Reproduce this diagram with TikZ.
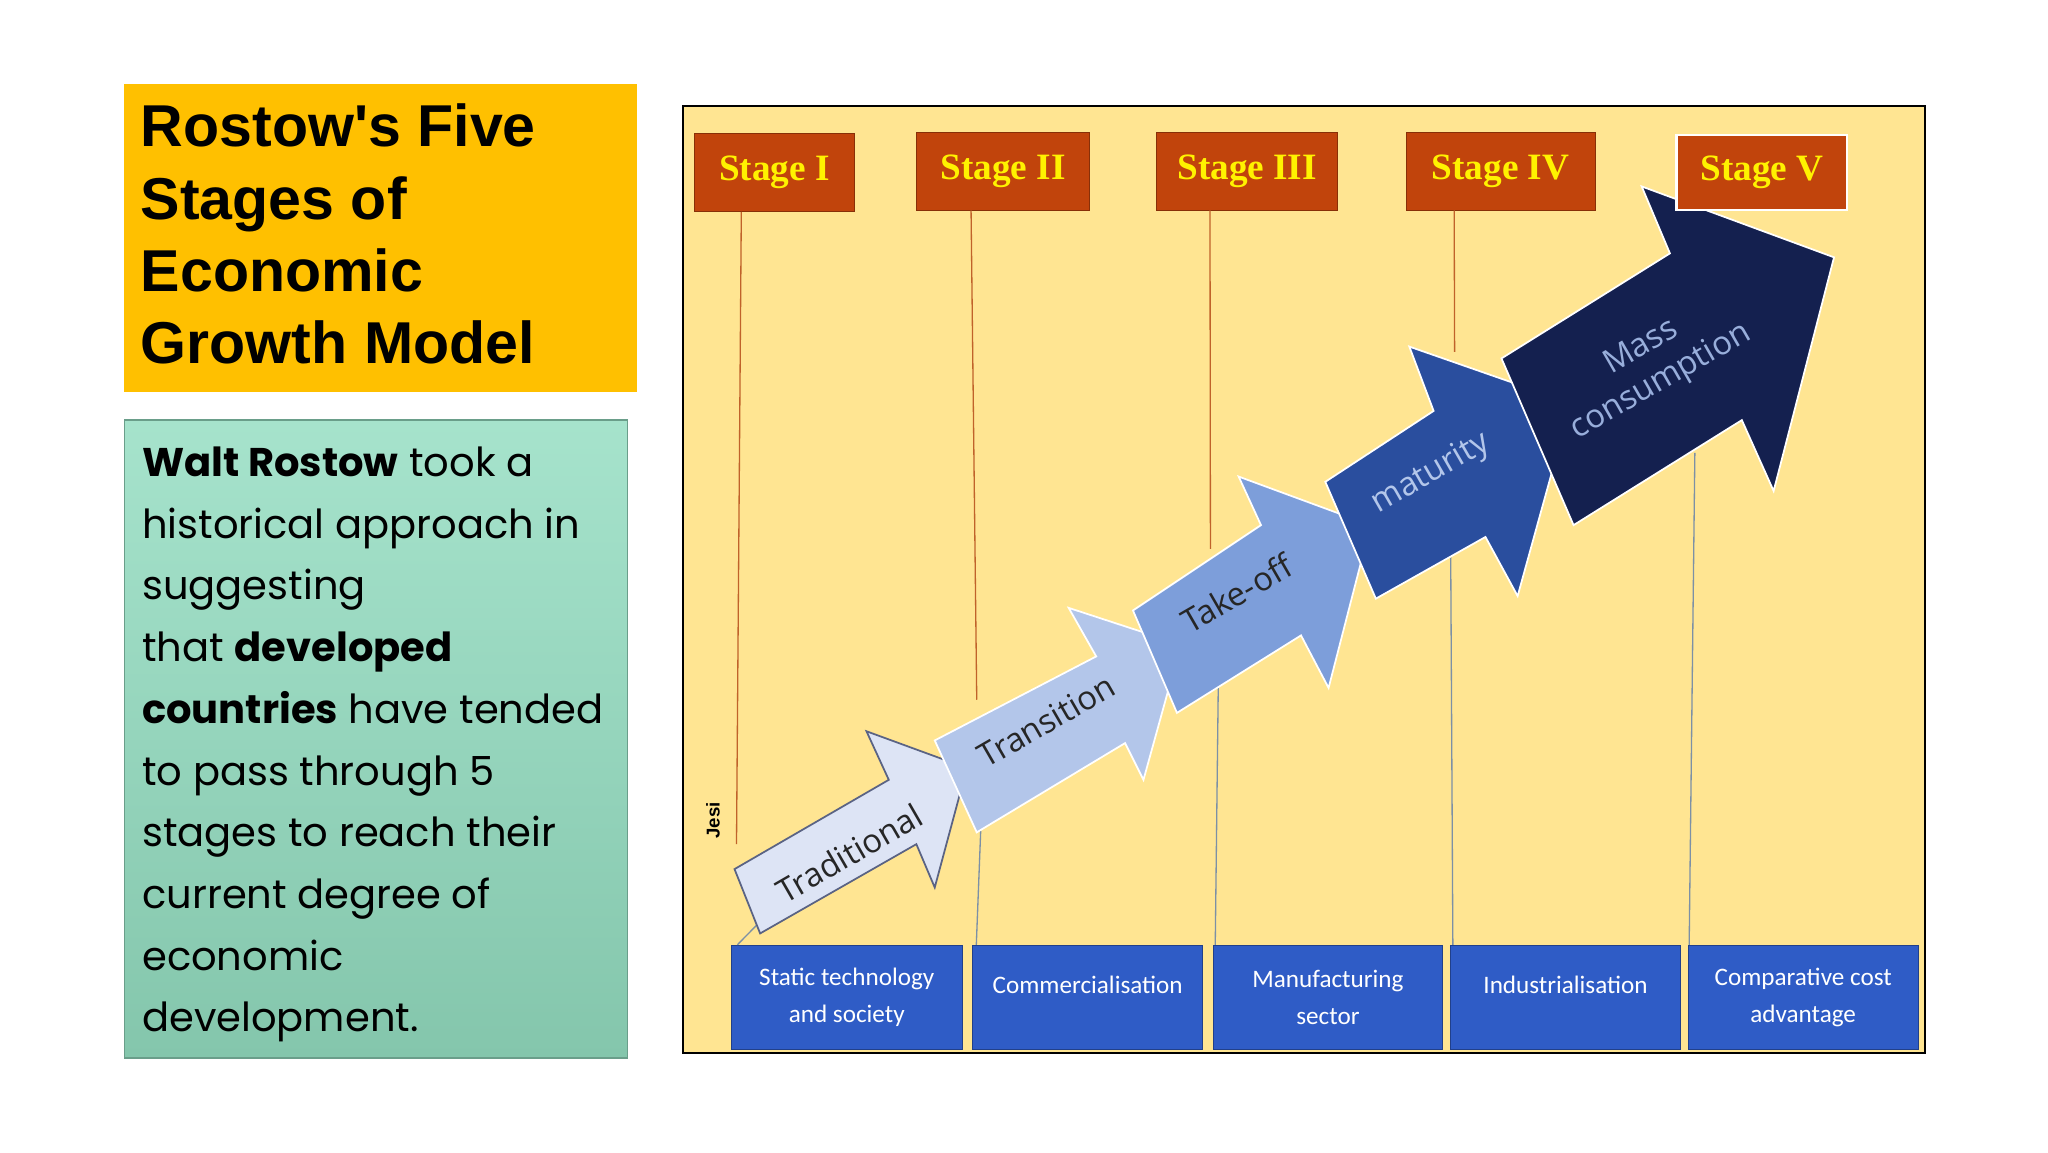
\documentclass[tikz,border=0pt]{standalone}
\usepackage{fontspec}
\setmainfont{Liberation Sans}
\newfontfamily\gothic{Poppins}
\newfontfamily\stagef{Liberation Serif}
\newfontfamily\arrf{Open Sans}
\newfontfamily\boxf{Carlito}
\definecolor{ttl}{HTML}{FFC000}
\definecolor{mintA}{HTML}{A6E3CC}
\definecolor{mintB}{HTML}{84C6AC}
\definecolor{panel}{HTML}{FFE592}
\definecolor{stg}{HTML}{C1440C}
\definecolor{stgtxt}{HTML}{FFF200}
\definecolor{bbox}{HTML}{2F5CC6}
\definecolor{tline}{HTML}{C0622A}
\definecolor{bline}{HTML}{7C90A6}
\definecolor{aA}{HTML}{DDE4F5}
\definecolor{aB}{HTML}{B3C6EA}
\definecolor{aC}{HTML}{7D9EDA}
\definecolor{aD}{HTML}{2A4E9E}
\definecolor{aE}{HTML}{14204F}
\begin{document}
\begin{tikzpicture}[x=0.6pt,y=-0.6pt,
  stage/.style={draw=stg!70!black,fill=stg,text=stgtxt,font=\stagef\bfseries\fontsize{17}{20}\selectfont,inner sep=0pt},
  bot/.style={draw=bbox!70!black,fill=bbox,text=white,font=\boxf\fontsize{11.5}{17}\selectfont,align=center,inner sep=0pt},
  arr/.style={draw=white,line width=0.8pt,line join=miter},
  atxt/.style={font=\arrf\fontsize{15}{18}\selectfont,rotate=30,align=center},
  tl/.style={draw=tline,line width=0.6pt},
  bl/.style={draw=bline,line width=0.6pt},
  lt/.style={anchor=base west,inner sep=0pt,font=\gothic\fontsize{18.3}{24}\selectfont}]
\useasboundingbox (0,0) rectangle (1560,877.5);
\fill[white] (0,0) rectangle (1560,877.5);
% title
\node[fill=ttl,minimum width=391*0.6pt,minimum height=234*0.6pt,anchor=north west,inner sep=0pt] (title) at (94,64) {};
\node[anchor=north west,align=left,inner sep=0pt,font=\bfseries\fontsize{27}{33}\selectfont] (ttext) at (107,79) {Rostow\textquotesingle s Five\\Stages of\\Economic\\Growth Model};
% text box
\shade[top color=mintA,bottom color=mintB] (95,320) rectangle (478,806);
\draw[mintB!80!black,line width=0.6pt] (95,320) rectangle (478,806);
\node[lt] (l1) at (108,363) {\textbf{Walt Rostow} took a};
\node[lt] (l2) at (108,410) {historical approach in};
\node[lt] (l3) at (108,457) {suggesting};
\node[lt] (l4) at (108,504) {that \textbf{developed}};
\node[lt] (l5) at (108,551) {\textbf{countries} have tended};
\node[lt] (l6) at (108,598) {to pass through 5};
\node[lt] (l7) at (108,645) {stages to reach their};
\node[lt] (l8) at (108,692) {current degree of};
\node[lt] (l9) at (108,739) {economic};
\node[lt] (l10) at (108,786) {development.};
% panel
\draw[fill=panel,draw=black,line width=0.8pt] (520,81) rectangle (1466,802);
% stages
\node[stage,minimum width=122*0.6pt,minimum height=59*0.6pt] (s1) at (590,131.5) {Stage I};
\node[stage,minimum width=132*0.6pt,minimum height=59*0.6pt] (s2) at (764,130.5) {Stage II};
\node[stage,minimum width=138*0.6pt,minimum height=59*0.6pt] (s3) at (950,130.5) {Stage III};
\node[stage,minimum width=144*0.6pt,minimum height=59*0.6pt] (s4) at (1143,130.5) {Stage IV};
% bottom boxes
\node[bot,minimum width=176*0.6pt,minimum height=79*0.6pt] (b1) at (645,759.5) {Static technology\\and society};
\node[bot,minimum width=175*0.6pt,minimum height=79*0.6pt] (b2) at (828.5,759.5) {Commercialisation\\[-0.5em]\mbox{}};
\node[bot,minimum width=175*0.6pt,minimum height=79*0.6pt] (b3) at (1011.5,759.5) {Manufacturing\\sector};
\node[bot,minimum width=175*0.6pt,minimum height=79*0.6pt] (b4) at (1192.5,759.5) {Industrialisation\\[-0.5em]\mbox{}};
\node[bot,minimum width=175*0.6pt,minimum height=79*0.6pt] (b5) at (1373.5,759.5) {Comparative cost\\advantage};
% connector ends
\coordinate (e1) at (561,643);
\coordinate (e2) at (744,533);
\coordinate (e3) at (922,418);
\coordinate (e4) at (1108,268);
\coordinate (f1) at (578,703);
\coordinate (f2) at (747,633);
\coordinate (f3) at (928,520);
\coordinate (f4) at (1105,420);
\coordinate (f5) at (1291,345);
\draw[tl] (s1.south west)++(36,0) -- (e1);
\draw[tl] (s2.south west)++(42,0) -- (e2);
\draw[tl] (s3.south west)++(41,0) -- (e3);
\draw[tl] (s4.south west)++(37,0) -- (e4);
\draw[bl] (b1.north west)++(5,0) -- (f1);
\draw[bl] (b2.north west)++(3,0) -- (f2);
\draw[bl] (b3.north west)++(2,0) -- (f3);
\draw[bl] (b4.north west)++(2,0) -- (f4);
\draw[bl] (b5.north west)++(1,0) -- (f5);
% arrows
\filldraw[arr,fill=aA,draw=aE!70] (559.5,662) -- (677,594) -- (660,557) -- (736.5,585) -- (712,676) -- (698,643) -- (579,711) -- cycle;
\node[atxt,text=black!85] (t1) at (647,650) {Traditional};
\filldraw[arr,fill=aB] (712,564) -- (835,500) -- (814,463) -- (899.5,491) -- (871,594) -- (857,566) -- (744,634) -- cycle;
\node[atxt,text=black!85] (t2) at (797,549) {Transition};
\filldraw[arr,fill=aC] (863,465) -- (960.5,400) -- (943.5,363) -- (1044,400) -- (1012,524) -- (991,484) -- (896.5,543) -- cycle;
\node[atxt,text=black!85] (t3) at (942,452) {Take-off};
\filldraw[arr,fill=aD] (1009.5,367) -- (1092,313) -- (1073.5,264) -- (1196.7,307) -- (1156,454) -- (1131.5,409) -- (1048,456) -- cycle;
\node[atxt,text=aB] (t4) at (1090,361) {maturity};
\filldraw[arr,fill=aE] (1143.7,273) -- (1272,193) -- (1250.5,142) -- (1397,196) -- (1351,374) -- (1326.8,320) -- (1198.6,400) -- cycle;
\node[atxt,text=aB!80!aD] (t5) at (1258,278) {Mass\\consumption};
\node[stage,draw=white,line width=1pt,minimum width=130*0.6pt,minimum height=57*0.6pt] (s5) at (1342,131.5) {Stage V};
\node[rotate=90,font=\bfseries\fontsize{8.5}{10}\selectfont] (jesi) at (543,625) {Jesi};
\end{tikzpicture}
\end{document}
